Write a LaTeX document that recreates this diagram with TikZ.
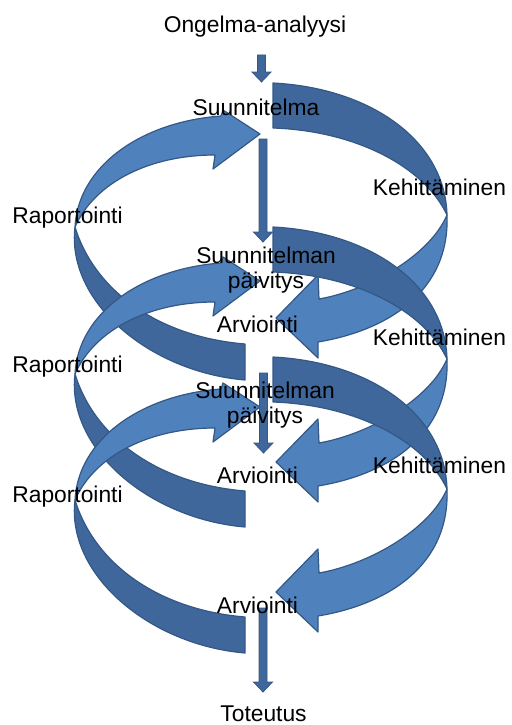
\documentclass[tikz,border=0pt]{standalone}
\usepackage{fontspec}
\setmainfont{Liberation Sans}
\usetikzlibrary{calc}
\definecolor{bandDark}{RGB}{63,103,155}
\definecolor{bandLight}{RGB}{79,129,189}
\definecolor{bandLine}{RGB}{52,88,133}

\newcommand{\loopRight}[1]{%
  \begin{scope}[shift={(0,#1)}]
    \path[lightband] (447,215) .. controls (430,255) and (370,290) .. (319,299)
      -- (318,275) -- (276,318) -- (318,358) -- (318,342)
      .. controls (390,330) and (450,290) .. (447,215) -- cycle;
    \path[darkband] (273,83) .. controls (370,88) and (445,140) .. (447,215)
      .. controls (425,168) and (358,131) .. (273,128) -- cycle;
  \end{scope}}
\newcommand{\loopLeft}[1]{%
  \begin{scope}[shift={(0,#1)}]
    \path[darkband] (245,344) .. controls (160,337) and (95,292) .. (75,227)
      .. controls (66,302) and (150,372) .. (245,380) -- cycle;
    \path[lightband] (75,227) .. controls (78,167) and (140,122) .. (221,116)
      -- (223,110) -- (260,134) -- (213,169) -- (215,155)
      .. controls (150,155) and (95,182) .. (75,227) -- cycle;
  \end{scope}}
\newcommand{\vblockarrow}[2]{%
  \path[vblock] ($(#1)+(-4,0)$) -- ($(#2)+(-4,-10)$) -- ($(#2)+(-9.5,-10)$)
    -- (#2) -- ($(#2)+(9.5,-10)$) -- ($(#2)+(4,-10)$) -- ($(#1)+(4,0)$) -- cycle;}

\begin{document}
\begin{tikzpicture}[x=1pt,y=-1pt,
  darkband/.style={fill=bandDark, draw=bandLine, line width=1.2pt, line join=round},
  lightband/.style={fill=bandLight, draw=bandLine, line width=1.2pt, line join=round},
  vblock/.style={fill=bandDark, draw=bandLine, line width=0.8pt},
  lbl/.style={font=\fontsize{22.8}{25}\selectfont, inner sep=0pt, anchor=base, text=black},
]
\useasboundingbox (0,0) rectangle (511,725);

% spiral loops
\loopRight{0}
\loopLeft{0}
\loopRight{144}
\loopLeft{147}
\loopRight{274}
\loopLeft{273}

% vertical block arrows
\coordinate (a0s) at (261.5,55);  \coordinate (a0e) at (261.5,82);
\coordinate (a1s) at (263,139);   \coordinate (a1e) at (263,242);
\coordinate (a2s) at (263.5,373); \coordinate (a2e) at (263.5,453);
\coordinate (a3s) at (263,608);   \coordinate (a3e) at (263,692);
\vblockarrow{a0s}{a0e}
\vblockarrow{a1s}{a1e}
\vblockarrow{a2s}{a2e}
\vblockarrow{a3s}{a3e}

% labels (multi-line nodes: base anchor = last line)
\node[lbl] (ong) at (255,33) {Ongelma-analyysi};
\node[lbl] (suun) at (256,115) {Suunnitelma};
\node[lbl] (rap1) at (67.5,223) {Raportointi};
\node[lbl] (keh1) at (439.5,195) {Kehittäminen};
\node[lbl, align=center] (pv1) at (266,288) {Suunnitelman\\päivitys};
\node[lbl] (arv1) at (257.5,332) {Arviointi};
\node[lbl] (keh2) at (439.5,345) {Kehittäminen};
\node[lbl] (rap2) at (67.5,372) {Raportointi};
\node[lbl, align=center] (pv2) at (265,423) {Suunnitelman\\päivitys};
\node[lbl] (arv2) at (257.5,483) {Arviointi};
\node[lbl] (keh3) at (439.5,473) {Kehittäminen};
\node[lbl] (rap3) at (67.5,502) {Raportointi};
\node[lbl] (arv3) at (257.5,613) {Arviointi};
\node[lbl] (tot) at (263.5,721.5) {Toteutus};
\end{tikzpicture}
\end{document}
